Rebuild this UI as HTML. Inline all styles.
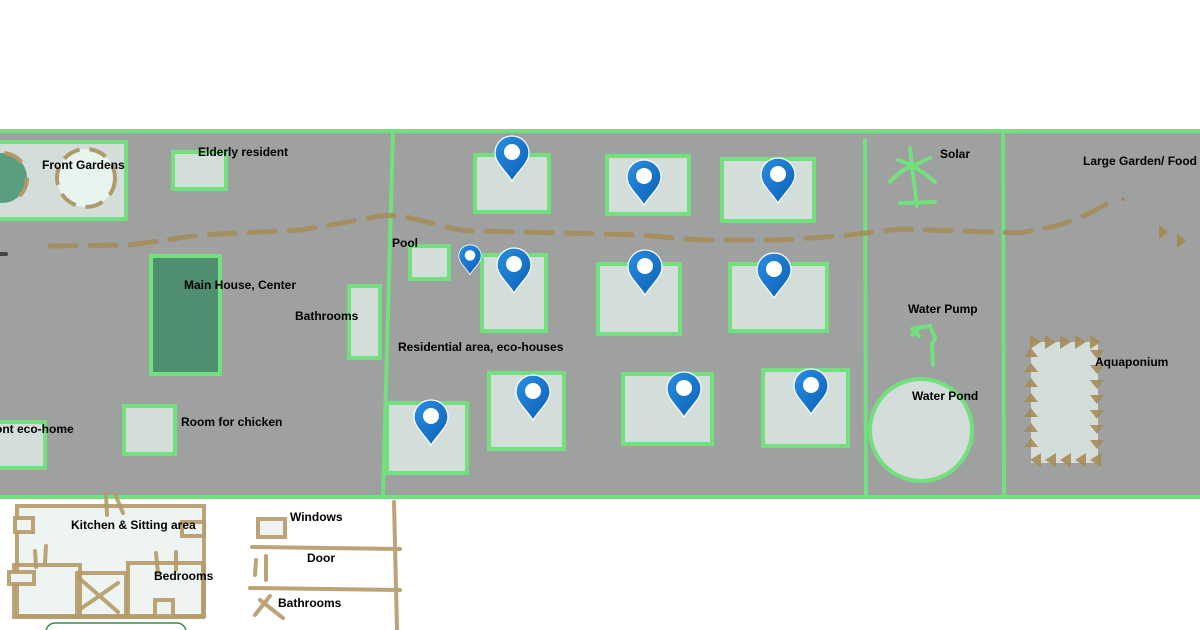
<!DOCTYPE html>
<html><head><meta charset="utf-8"><style>
html,body{margin:0;padding:0;background:#fff;width:1200px;height:630px;overflow:hidden}
text{font-family:"Liberation Sans",sans-serif;font-size:12px;font-weight:bold;fill:#000}
</style></head><body>
<svg width="1200" height="630" viewBox="0 0 1200 630" xmlns="http://www.w3.org/2000/svg">
<defs>
<linearGradient id="pg" x1="0" y1="0" x2="1" y2="1"><stop offset="0" stop-color="#2a8fe0"/><stop offset="1" stop-color="#0a5fb8"/></linearGradient>
<g id="pin"><path d="M0,22 C-6,12 -17,4 -17,-6 A17,17 0 1 1 17,-6 C17,4 6,12 0,22Z" fill="url(#pg)" stroke="#fff" stroke-width="1.2"/><circle cx="0" cy="-7" r="8" fill="#fff"/></g>
</defs>
<rect x="-5" y="131" width="1210" height="366" fill="#9ea1a0" stroke="#72e07c" stroke-width="4"/>
<g fill="#d3deda" stroke="#72e07c" stroke-width="4">
<rect x="-5" y="142" width="131" height="77"/>
<rect x="173" y="152" width="53" height="37"/>
<rect x="151" y="256" width="69" height="118" fill="#4f8f6f"/>
<rect x="349" y="286" width="31" height="72"/>
<rect x="124" y="406" width="51" height="48"/>
<rect x="-5" y="422" width="50" height="46"/>
<rect x="475" y="155" width="74" height="57"/>
<rect x="607" y="156" width="82" height="58"/>
<rect x="722" y="159" width="92" height="62"/>
<rect x="410" y="246" width="39" height="33"/>
<rect x="482" y="255" width="64" height="76"/>
<rect x="598" y="264" width="82" height="70"/>
<rect x="730" y="264" width="97" height="67"/>
<rect x="387" y="403" width="80" height="70"/>
<rect x="489" y="373" width="75" height="76"/>
<rect x="623" y="374" width="89" height="70"/>
<rect x="763" y="370" width="85" height="76"/>
<circle cx="921" cy="430" r="51"/>
</g>
<circle cx="2" cy="178" r="25" fill="#5a9e80" stroke="#b09a6a" stroke-width="4" stroke-dasharray="20 40"/>
<circle cx="86" cy="178" r="29" fill="#e8f4ee" stroke="#b09a6a" stroke-width="4" stroke-dasharray="18 10"/>
<line x1="0" y1="254" x2="6" y2="254" stroke="#444" stroke-width="4" stroke-linecap="round"/>
<g stroke="#72e07c" stroke-width="4" fill="none" stroke-linecap="round">
<line x1="393" y1="131" x2="383" y2="497"/>
<line x1="865" y1="140" x2="866" y2="497"/>
<line x1="1003" y1="135" x2="1004" y2="497"/>
<path d="M910,148 L914,182 L917,206 M890,182 Q900,170 915,165 L930,158 M898,160 Q915,165 935,182 M900,203 L935,202"/>
<path d="M912,329 L919,336 M920,327 L912,335 M916,328 L930,326 L935,338 L932,345 L933,365"/>
</g>
<path d="M50,246 L130,245 L200,235 L300,230 L370,218 Q390,213 410,218 L440,225 Q460,232 480,231 L560,233 L640,235 L700,240 L780,240 L840,236 L900,229 L960,231 L1020,233 L1060,225 L1090,213 L1110,202" fill="none" stroke="#a68b55" stroke-opacity="0.85" stroke-width="5" stroke-dasharray="26 14" stroke-linecap="round"/>
<circle cx="1123" cy="199" r="2" fill="#a68b55"/>
<g fill="#a68b55"><path d="M1159,225 L1168,232 L1159,239Z"/><path d="M1177,233 L1186,241 L1177,248Z"/></g>
<rect x="1031" y="342" width="67" height="121" fill="#d3deda"/>
<g fill="#a68b55" fill-opacity="0.9">
<path d="M1030,335l11,7l-11,7z M1045,335l11,7l-11,7z M1060,335l11,7l-11,7z M1075,335l11,7l-11,7z M1090,335l11,7l-11,7z"/>
<path d="M1090,350l14,0l-7,9z M1090,365l14,0l-7,9z M1090,380l14,0l-7,9z M1090,395l14,0l-7,9z M1090,410l14,0l-7,9z M1090,425l14,0l-7,9z M1090,440l14,0l-7,9z"/>
<path d="M1101,453l-11,7l11,7z M1086,453l-11,7l11,7z M1071,453l-11,7l11,7z M1056,453l-11,7l11,7z M1041,453l-11,7l11,7z"/>
<path d="M1024,447l14,0l-7,-9z M1024,432l14,0l-7,-9z M1024,417l14,0l-7,-9z M1024,402l14,0l-7,-9z M1024,387l14,0l-7,-9z M1024,372l14,0l-7,-9z M1024,357l14,0l-7,-9z"/>
</g>
<use href="#pin" x="512" y="159"/>
<use href="#pin" x="644" y="183"/>
<use href="#pin" x="778" y="181"/>
<use href="#pin" x="514" y="271"/>
<use href="#pin" x="645" y="273"/>
<use href="#pin" x="774" y="276"/>
<use href="#pin" x="533" y="398"/>
<use href="#pin" x="684" y="395"/>
<use href="#pin" x="811" y="392"/>
<use href="#pin" x="431" y="423"/>
<use href="#pin" transform="translate(470,260) scale(0.66)"/>
<g fill="#eef4f1" stroke="#b59a68" stroke-width="4" stroke-opacity="0.9">
<rect x="17" y="506" width="187" height="110"/>
<rect x="14" y="565" width="66" height="52" fill="none"/>
<rect x="77" y="573" width="49" height="44" fill="none"/>
<rect x="128" y="563" width="75" height="54" fill="none"/>
<rect x="15" y="518" width="18" height="14"/>
<rect x="182" y="522" width="22" height="14"/>
<rect x="9" y="572" width="25" height="12"/>
<rect x="155" y="600" width="18" height="16"/>
<rect x="258" y="519" width="27" height="18"/>
</g>
<g stroke="#b59a68" stroke-width="4" stroke-opacity="0.9" fill="none" stroke-linecap="round">
<path d="M79,578 L118,612 M79,610 L118,583"/>
<path d="M106,494 L107,515 M115,494 L123,513"/>
<path d="M35,551 L36,567 M46,546 L45,563 M156,553 L158,573 M176,552 L176,570"/>
<path d="M252,547 L400,549 M250,588 L400,590 M394,502 L397,630"/>
<path d="M256,560 L255,575 M266,556 L266,580 M255,615 L270,596 M260,600 L283,618"/>
</g>
<rect x="46" y="623" width="140" height="20" rx="9" fill="none" stroke="#3a8a4a" stroke-width="1.5"/>
<text x="42" y="169">Front Gardens</text>
<text x="198" y="156">Elderly resident</text>
<text x="184" y="289">Main House, Center</text>
<text x="295" y="320">Bathrooms</text>
<text x="181" y="426">Room for chicken</text>
<text x="-5" y="433">ont eco-home</text>
<text x="392" y="247">Pool</text>
<text x="398" y="351">Residential area, eco-houses</text>
<text x="940" y="158">Solar</text>
<text x="1083" y="165">Large Garden/ Food f</text>
<text x="908" y="313">Water Pump</text>
<text x="912" y="400">Water Pond</text>
<text x="1095" y="366">Aquaponium</text>
<text x="71" y="529">Kitchen &amp; Sitting area</text>
<text x="154" y="580">Bedrooms</text>
<text x="290" y="521">Windows</text>
<text x="307" y="562">Door</text>
<text x="278" y="607">Bathrooms</text>
</svg>
</body></html>
